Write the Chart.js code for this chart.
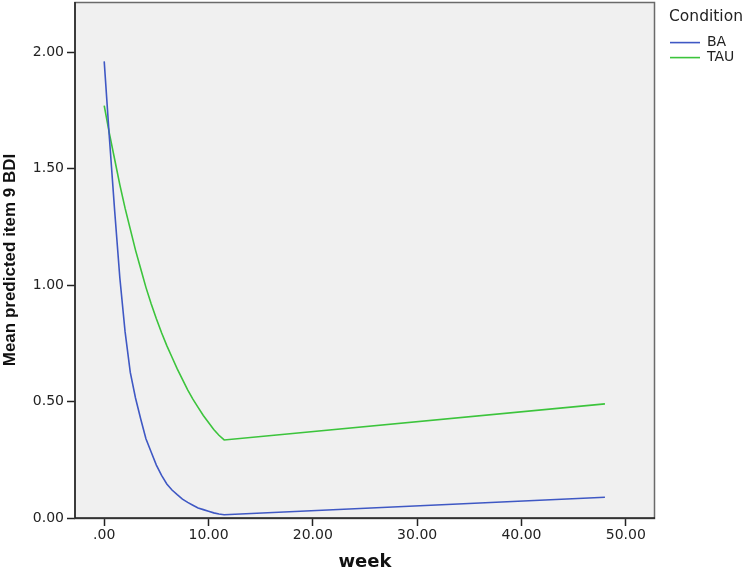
<!DOCTYPE html>
<html>
<head>
<meta charset="utf-8">
<script src="https://cdn.jsdelivr.net/npm/chart.js@4"></script>
<style>
  html, body { margin: 0; padding: 0; background: #fff; }
  #wrap { width: 744px; height: 570px; }
</style>
</head>
<body>
<div id="wrap"><canvas id="chart" width="744" height="570"></canvas></div>
<script>
// weeks at which the predicted curves are sampled
const weeks = [0, 0.5, 1, 1.5, 2, 2.5, 3, 3.5, 4, 4.5, 5, 5.5, 6, 6.5, 7, 7.5, 8, 8.5, 9, 9.5, 10, 10.5, 11, 11.5, 48];
const baValues = [1.96, 1.63, 1.32, 1.03, 0.80, 0.625, 0.515, 0.425, 0.34, 0.283, 0.227, 0.183, 0.146, 0.12, 0.10, 0.081, 0.067, 0.055, 0.043, 0.036, 0.029, 0.022, 0.017, 0.014, 0.089];
const tauValues = [1.77, 1.65, 1.54, 1.43, 1.33, 1.24, 1.15, 1.07, 0.99, 0.92, 0.855, 0.795, 0.74, 0.69, 0.64, 0.595, 0.55, 0.51, 0.475, 0.44, 0.41, 0.38, 0.355, 0.335, 0.49];
const seriesLabels = ['BA', 'TAU'];
const xTicks = [0, 10, 20, 30, 40, 50];
const yTicks = [0, 0.5, 1, 1.5, 2];

const SANS = "'DejaVu Sans', Verdana, sans-serif";
const ARIAL = "'Liberation Sans', Arial, sans-serif";
const LEGEND_SHIFT = 14;
const toXY = vals => vals.map((v, i) => ({ x: weeks[i], y: v }));

// grey plot background + frame
const plotFrame = {
  id: 'plotFrame',
  beforeDatasetsDraw(chart) {
    const { ctx, chartArea: a } = chart;
    ctx.save();
    ctx.fillStyle = '#f0f0f0';
    ctx.fillRect(a.left, a.top, a.width, a.height);
    ctx.strokeStyle = '#6a6a6a';
    ctx.lineWidth = 1.5;
    ctx.strokeRect(a.left, a.top + 0.5, a.width - 0.5, a.height);
    ctx.strokeStyle = '#222';
    ctx.lineWidth = 1.5;
    ctx.beginPath();
    ctx.moveTo(a.left, a.top);
    ctx.lineTo(a.left, a.bottom);
    ctx.lineTo(a.right, a.bottom);
    ctx.stroke();
    ctx.restore();
  }
};

// fixed legend width, legend contents nudged right
const legendTweak = {
  id: 'legendTweak',
  afterInit(chart) {
    const lg = chart.legend;
    const fit = lg.fit, draw = lg._draw;
    lg.fit = function () { fit.call(this); this.width = 89; };
    lg._draw = function () { this.ctx.save(); this.ctx.translate(LEGEND_SHIFT, 0); draw.call(this); this.ctx.restore(); };
  }
};

new Chart(document.getElementById('chart'), {
  type: 'line',
  data: {
    datasets: [
      { label: seriesLabels[0], data: toXY(baValues), borderColor: '#3f58c4', backgroundColor: '#3f58c4', borderWidth: 1.6, pointRadius: 0, tension: 0 },
      { label: seriesLabels[1], data: toXY(tauValues), borderColor: '#3cc43c', backgroundColor: '#3cc43c', borderWidth: 1.6, pointRadius: 0, tension: 0 }
    ]
  },
  options: {
    responsive: false,
    animation: false,
    layout: { padding: { top: 2, left: 0, right: 0, bottom: 0 } },
    plugins: {
      tooltip: { enabled: false },
      legend: {
        position: 'right',
        align: 'start',
        title: { display: true, text: 'Condition', position: 'start', color: '#222', font: { family: SANS, size: 15.5 }, padding: { top: 7, bottom: 7 } },
        labels: {
          color: '#222',
          font: { family: SANS, size: 14 },
          usePointStyle: true,
          pointStyle: 'line',
          pointStyleWidth: 30,
          boxHeight: 14,
          padding: 1
        }
      }
    },
    scales: {
      x: {
        type: 'linear',
        min: -2.8,
        max: 52.8,
        afterBuildTicks: s => { s.ticks = xTicks.map(v => ({ value: v })); },
        afterFit: s => { s.height = 52; s.paddingLeft = 0; s.paddingRight = 0; },
        grid: { drawOnChartArea: false, drawTicks: true, tickLength: 8, tickColor: '#222', tickWidth: 1.5 },
        border: { display: false },
        ticks: {
          color: '#222',
          font: { family: SANS, size: 14 },
          padding: 1,
          maxRotation: 0,
          callback: v => v === 0 ? '.00' : v.toFixed(2)
        },
        title: { display: true, text: 'week', color: '#111', font: { family: SANS, size: 18, weight: 'bold' }, padding: { top: 0, bottom: -3 } }
      },
      y: {
        min: 0,
        max: 2.215,
        afterBuildTicks: s => { s.ticks = yTicks.map(v => ({ value: v })); },
        afterFit: s => { s.width = 75; s.paddingTop = 0; s.paddingBottom = 0; },
        grid: { drawOnChartArea: false, drawTicks: true, tickLength: 8, tickColor: '#222', tickWidth: 1.5 },
        border: { display: false },
        ticks: {
          color: '#222',
          font: { family: SANS, size: 14 },
          padding: 3,
          callback: v => v.toFixed(2)
        },
        title: { display: true, text: 'Mean predicted item 9 BDI', color: '#111', font: { family: ARIAL, size: 17, weight: 'bold' }, padding: { top: 0, bottom: 0 } }
      }
    }
  },
  plugins: [plotFrame, legendTweak]
});
</script>
</body>
</html>
